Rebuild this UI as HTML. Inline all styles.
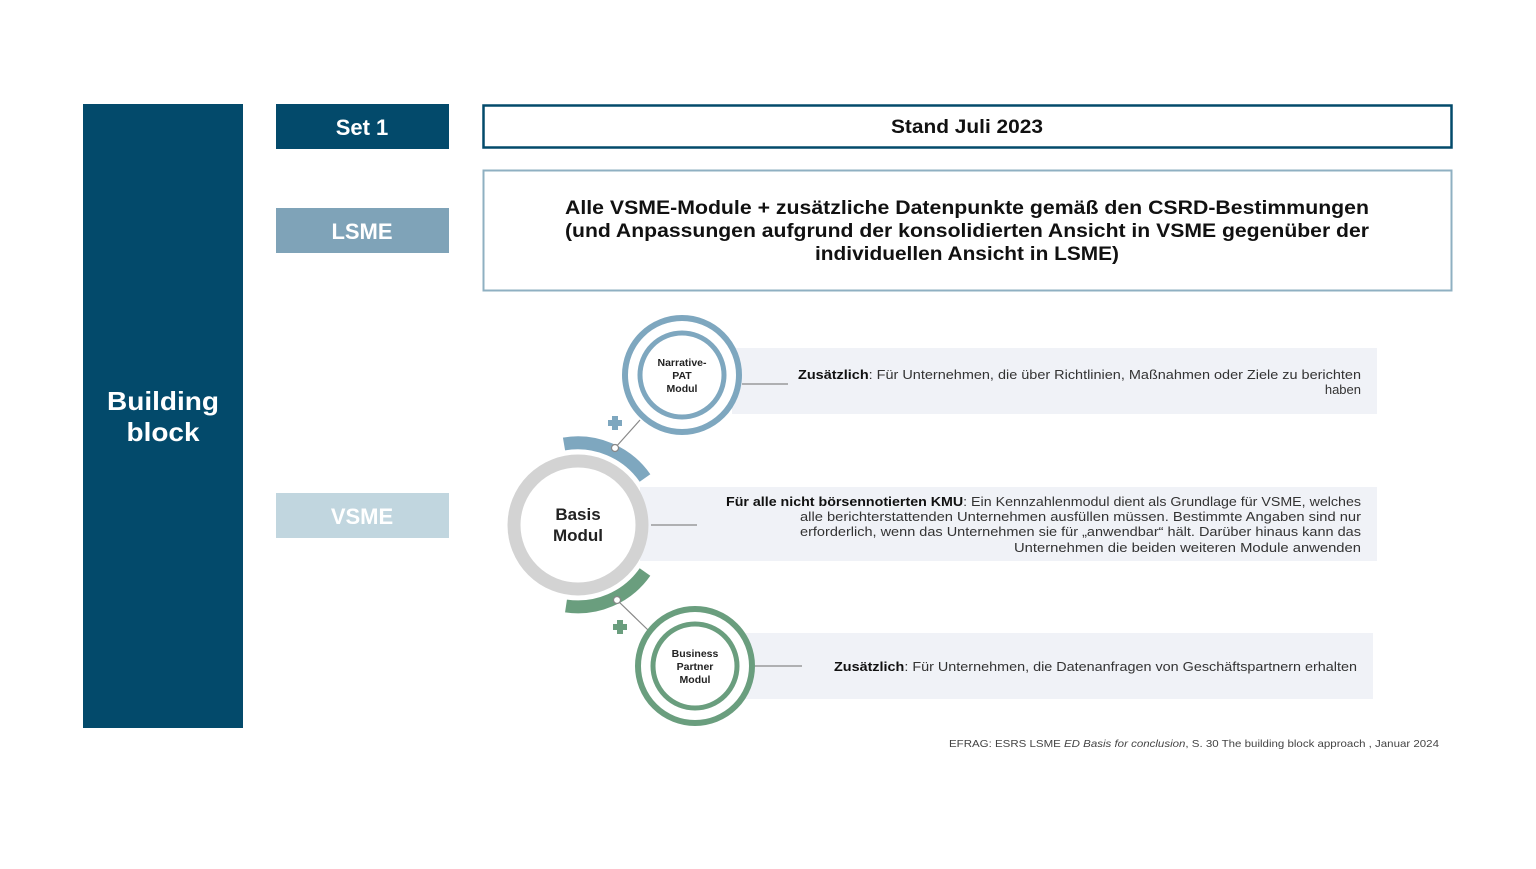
<!DOCTYPE html>
<html><head><meta charset="utf-8"><style>
body{margin:0;width:1536px;height:864px;background:#fff;overflow:hidden;font-family:"Liberation Sans",sans-serif;}
</style></head><body>
<svg width="1536" height="864" xmlns="http://www.w3.org/2000/svg" font-family="Liberation Sans, sans-serif">
<rect x="83" y="104" width="160" height="624" fill="#034a6b"/>
<text x="163" y="410" fill="#fff" font-size="26" font-weight="bold" text-anchor="middle" textLength="112" lengthAdjust="spacingAndGlyphs">Building</text>
<text x="163" y="441" fill="#fff" font-size="26" font-weight="bold" text-anchor="middle" textLength="73" lengthAdjust="spacingAndGlyphs">block</text>
<rect x="276" y="104" width="173" height="45" fill="#034a6b"/>
<text x="362" y="135" fill="#fff" font-size="22" font-weight="bold" text-anchor="middle">Set 1</text>
<rect x="276" y="208" width="173" height="45" fill="#7fa3b8"/>
<text x="362" y="239" fill="#fff" font-size="22" font-weight="bold" text-anchor="middle">LSME</text>
<rect x="276" y="493" width="173" height="45" fill="#c1d6df"/>
<text x="362" y="524" fill="#fff" font-size="22" font-weight="bold" text-anchor="middle">VSME</text>
<rect x="483.5" y="105.5" width="968" height="42" fill="#fff" stroke="#034a6b" stroke-width="2.5"/>
<text x="967" y="133" fill="#111" font-size="19" font-weight="bold" text-anchor="middle" textLength="152" lengthAdjust="spacingAndGlyphs">Stand Juli 2023</text>
<rect x="483.5" y="170.5" width="968" height="120" fill="#fff" stroke="#8fb0c2" stroke-width="2"/>
<g fill="#111" font-size="19" font-weight="bold" text-anchor="middle">
<text x="967" y="214" textLength="804" lengthAdjust="spacingAndGlyphs">Alle VSME-Module + zusätzliche Datenpunkte gemäß den CSRD-Bestimmungen</text>
<text x="967" y="237" textLength="804" lengthAdjust="spacingAndGlyphs">(und Anpassungen aufgrund der konsolidierten Ansicht in VSME gegenüber der</text>
<text x="967" y="260" textLength="304" lengthAdjust="spacingAndGlyphs">individuellen Ansicht in LSME)</text>
</g>
<rect x="732" y="348" width="645" height="66" fill="#f0f2f7"/>
<rect x="640" y="487" width="737" height="74" fill="#f0f2f7"/>
<rect x="745" y="633" width="628" height="66" fill="#f0f2f7"/>
<g stroke="#888" stroke-width="1.2">
<line x1="742" y1="384" x2="788" y2="384"/>
<line x1="651" y1="525" x2="697" y2="525"/>
<line x1="755" y1="666" x2="802" y2="666"/>
<line x1="615" y1="448" x2="640" y2="420"/>
<line x1="617" y1="600" x2="648" y2="630"/>
</g>
<g font-size="13" fill="#333" text-anchor="end">
<text x="1361" y="379" textLength="563" lengthAdjust="spacingAndGlyphs"><tspan font-weight="bold" fill="#111">Zusätzlich</tspan>: Für Unternehmen, die über Richtlinien, Maßnahmen oder Ziele zu berichten</text>
<text x="1361" y="394">haben</text>
<text x="1361" y="506" textLength="635" lengthAdjust="spacingAndGlyphs"><tspan font-weight="bold" fill="#111">Für alle nicht börsennotierten KMU</tspan>: Ein Kennzahlenmodul dient als Grundlage für VSME, welches</text>
<text x="1361" y="521" textLength="561" lengthAdjust="spacingAndGlyphs">alle berichterstattenden Unternehmen ausfüllen müssen. Bestimmte Angaben sind nur</text>
<text x="1361" y="536" textLength="561" lengthAdjust="spacingAndGlyphs">erforderlich, wenn das Unternehmen sie für „anwendbar“ hält. Darüber hinaus kann das</text>
<text x="1361" y="552" textLength="347" lengthAdjust="spacingAndGlyphs">Unternehmen die beiden weiteren Module anwenden</text>
<text x="1357" y="671" textLength="523" lengthAdjust="spacingAndGlyphs"><tspan font-weight="bold" fill="#111">Zusätzlich</tspan>: Für Unternehmen, die Datenanfragen von Geschäftspartnern erhalten</text>
</g>
<circle cx="578" cy="525" r="64" fill="#fff" stroke="#d3d3d3" stroke-width="13"/>
<path d="M 564 444 A 82 82 0 0 1 645 478" fill="none" stroke="#7ea7bf" stroke-width="13"/>
<path d="M 645 572 A 82 82 0 0 1 566 606" fill="none" stroke="#6a9e7e" stroke-width="13"/>
<circle cx="615" cy="448" r="3.5" fill="#fff" stroke="#888" stroke-width="1.2"/>
<circle cx="617" cy="600" r="3.5" fill="#fff" stroke="#888" stroke-width="1.2"/>
<text x="578" y="520" font-size="17" font-weight="bold" fill="#222" text-anchor="middle">Basis</text>
<text x="578" y="541" font-size="17" font-weight="bold" fill="#222" text-anchor="middle">Modul</text>
<circle cx="682" cy="375" r="57" fill="#fff" stroke="#7ea7bf" stroke-width="6"/>
<circle cx="682" cy="375" r="42" fill="#fff" stroke="#7ea7bf" stroke-width="5"/>
<g font-size="10.5" font-weight="bold" fill="#222" text-anchor="middle">
<text x="682" y="366">Narrative-</text><text x="682" y="379">PAT</text><text x="682" y="392">Modul</text>
</g>
<circle cx="695" cy="666" r="57" fill="#fff" stroke="#6a9e7e" stroke-width="6"/>
<circle cx="695" cy="666" r="42" fill="#fff" stroke="#6a9e7e" stroke-width="5"/>
<g font-size="10.5" font-weight="bold" fill="#222" text-anchor="middle">
<text x="695" y="657">Business</text><text x="695" y="670">Partner</text><text x="695" y="683">Modul</text>
</g>
<path d="M612 416h6v4h4v6h-4v4h-6v-4h-4v-6h4z" fill="#7ea7bf"/>
<path d="M617 620h6v4h4v6h-4v4h-6v-4h-4v-6h4z" fill="#6a9e7e"/>
<text x="1439" y="747" font-size="10.5" fill="#444" text-anchor="end" textLength="490" lengthAdjust="spacingAndGlyphs">EFRAG: ESRS LSME <tspan font-style="italic">ED Basis for conclusion</tspan>, S. 30 The building block approach , Januar 2024</text>
</svg>
</body></html>
